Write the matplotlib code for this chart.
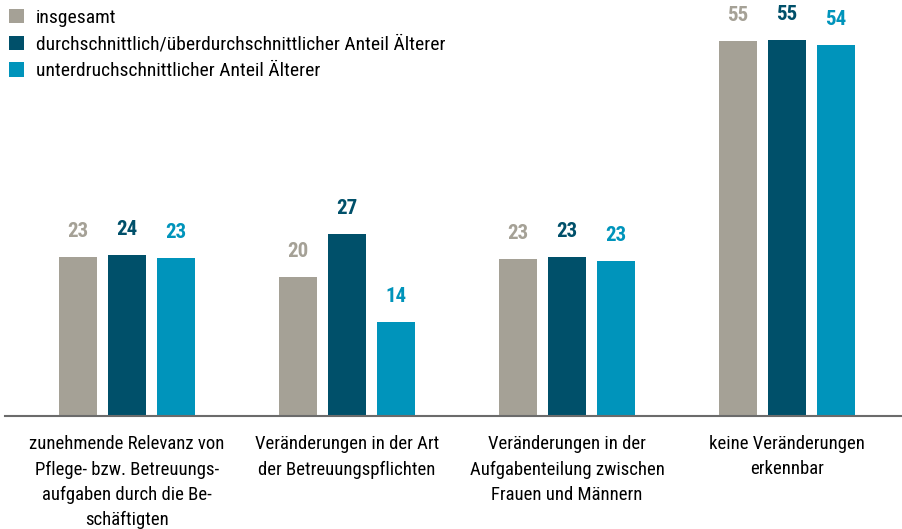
import matplotlib
matplotlib.use("Agg")
import matplotlib.pyplot as plt
import numpy as np

plt.rcParams["font.family"] = ["Roboto Condensed", "DejaVu Sans"]

categories = [
    "zunehmende Relevanz von\nPflege- bzw. Betreuungs-\naufgaben durch die Be-\nschäftigten",
    "Veränderungen in der Art\nder Betreuungspflichten",
    "Veränderungen in der\nAufgabenteilung zwischen\nFrauen und Männern",
    "keine Veränderungen\nerkennbar",
]
series_names = [
    "insgesamt",
    "durchschnittlich/überdurchschnittlicher Anteil Älterer",
    "unterdruchschnittlicher Anteil Älterer",
]
insgesamt = [23.3, 20.4, 23.0, 55.0]
ueberdurchschnittlich = [23.6, 26.7, 23.3, 55.1]
unterdurchschnittlich = [23.2, 13.8, 22.7, 54.4]
labels_insgesamt = ["23", "20", "23", "55"]
labels_ueber = ["24", "27", "23", "55"]
labels_unter = ["23", "14", "23", "54"]

colors = ["#a5a196", "#00506a", "#0094bb"]

fig = plt.figure(figsize=(9.03, 5.29), dpi=100)
ax = fig.add_axes([5 / 903, (529 - 416) / 529, 898 / 903, 416 / 529])

x = np.arange(len(categories))
width = 38 / 220
step = 49 / 220

all_series = [insgesamt, ueberdurchschnittlich, unterdurchschnittlich]
all_labels = [labels_insgesamt, labels_ueber, labels_unter]
for i, (vals, labs) in enumerate(zip(all_series, all_labels)):
    pos = x + (i - 1) * step
    ax.bar(pos, vals, width, color=colors[i], label=series_names[i])
    for px, v, t in zip(pos, vals, labs):
        ax.annotate(t, (px, v), xytext=(0, 11.5), textcoords="offset points",
                    ha="center", va="bottom", fontsize=15, fontweight="bold",
                    color=colors[i])

ax.set_xlim(-122 / 220, 3 + (903 - 787) / 220)
ax.set_ylim(0, 61)
ax.set_xticks(x)
ax.set_xticklabels(categories, fontsize=13.5, linespacing=1.5)
ax.tick_params(axis="x", length=0, pad=14)
ax.set_yticks([])
for s in ["top", "right", "left"]:
    ax.spines[s].set_visible(False)
ax.spines["bottom"].set_color("#6b6b6b")
ax.spines["bottom"].set_linewidth(1.5)

ax.legend(loc="upper left", bbox_to_anchor=(0.0, 1.0), bbox_transform=fig.transFigure,
          frameon=False, fontsize=14, handlelength=0.78, handleheight=0.78,
          handletextpad=0.6, labelspacing=0.45, borderaxespad=0.3, borderpad=0.15)

fig.savefig("out.png", dpi=100)
